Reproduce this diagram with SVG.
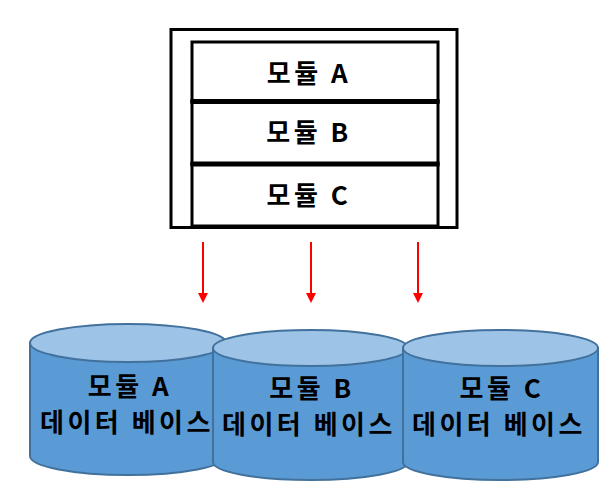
<svg xmlns="http://www.w3.org/2000/svg" width="614" height="487" viewBox="0 0 614 487">
<defs>
<style>
.t{font-family:"Noto Sans CJK KR","Noto Sans",sans-serif;font-weight:bold;font-size:26px;letter-spacing:3.5px;fill:#000;text-anchor:middle}
.box{fill:#fff;stroke:#000;stroke-width:3}
.div{stroke:#000;stroke-width:5}
.body{fill:#5B9BD5;stroke:#41719C;stroke-width:2}
.top{fill:#9DC3E6;stroke:#41719C;stroke-width:2}
.arr{stroke:#FF0000;stroke-width:2;fill:none}
</style>
<marker id="ah" markerWidth="10" markerHeight="10" refX="5" refY="5" orient="auto" markerUnits="userSpaceOnUse" viewBox="0 0 10 10">
<path d="M0,0 L10,5 L0,10 z" fill="#FF0000"/>
</marker>
</defs>
<g id="container">
<rect class="box" x="171" y="29.5" width="286" height="198"/>
</g>
<g id="moduleA">
<rect class="box" x="192" y="42" width="246" height="59.5"/>
<text class="t" x="309" y="83">모듈 A</text>
</g>
<g id="moduleB">
<rect class="box" x="192" y="101.5" width="246" height="62.5"/>
<text class="t" x="309" y="142">모듈 B</text>
</g>
<g id="moduleC">
<rect class="box" x="192" y="164" width="246" height="62"/>
<text class="t" x="309" y="205">모듈 C</text>
</g>
<g id="dividers">
<line class="div" x1="190.5" y1="101.5" x2="439.5" y2="101.5"/>
<line class="div" x1="190.5" y1="164" x2="439.5" y2="164"/>
</g>
<g id="connectors">
<line class="arr" x1="203" y1="242" x2="203" y2="298" marker-end="url(#ah)"/>
<line class="arr" x1="311" y1="242" x2="311" y2="298" marker-end="url(#ah)"/>
<line class="arr" x1="418" y1="242" x2="418" y2="298" marker-end="url(#ah)"/>
</g>
<g id="dbA">
<path class="body" d="M30,343 L30,456 A98,19 0 0 0 226,456 L226,343 Z"/>
<ellipse class="top" cx="128" cy="343" rx="98" ry="19"/>
<text class="t" x="130" y="396">모듈 A</text>
<text class="t" x="127" y="432">데이터 베이스</text>
</g>
<g id="dbB">
<path class="body" d="M213,348 L213,462 A97.5,18 0 0 0 408,462 L408,348 Z"/>
<ellipse class="top" cx="310.5" cy="348" rx="97.5" ry="18"/>
<text class="t" x="312" y="398">모듈 B</text>
<text class="t" x="309" y="434">데이터 베이스</text>
</g>
<g id="dbC">
<path class="body" d="M403,348 L403,462 A97.5,18 0 0 0 598,462 L598,348 Z"/>
<ellipse class="top" cx="500.5" cy="348" rx="97.5" ry="18"/>
<text class="t" x="502" y="398">모듈 C</text>
<text class="t" x="499" y="434">데이터 베이스</text>
</g>
</svg>
